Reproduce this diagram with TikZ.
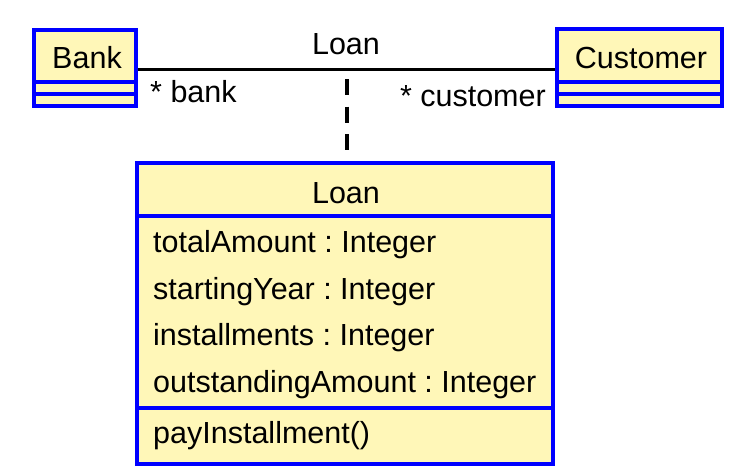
\documentclass[tikz,border=0pt]{standalone}
\usepackage{fontspec}
\setmainfont{Liberation Sans}
\frenchspacing
\definecolor{umlfill}{RGB}{255,247,184}
\definecolor{umlblue}{RGB}{0,0,255}
\begin{document}
\begin{tikzpicture}[x=1pt,y=-1pt,
  classbox/.style={draw=umlblue,fill=umlfill,line width=3.2pt,inner sep=0pt},
  divider/.style={draw=umlblue,line width=3.2pt},
  txt/.style={font=\fontsize{30.5}{36}\selectfont,inner sep=0pt},
  assoc/.style={line width=3pt},
  assocdash/.style={line width=4pt,dash pattern=on 16pt off 11.5pt,dash phase=17.5pt}]
\useasboundingbox (0,0) rectangle (737,475);
% Bank
\node[classbox,minimum width=102pt,minimum height=76pt] (bank) at (85,68) {};
\draw[divider] (bank.west |- 0,82) -- (bank.east |- 0,82);
\draw[divider] (bank.west |- 0,94) -- (bank.east |- 0,94);
\node[txt,anchor=base] (bankname) at (87,68) {Bank};
% Customer
\node[classbox,minimum width=165pt,minimum height=77pt] (cust) at (639.5,67.5) {};
\draw[divider] (cust.west |- 0,82) -- (cust.east |- 0,82);
\draw[divider] (cust.west |- 0,94) -- (cust.east |- 0,94);
\node[txt,anchor=base] (custname) at (641,68.5) {Customer};
% Association
\draw[assoc] (bank.east |- 0,69) -- coordinate[pos=0.5] (mid) (cust.west |- 0,69);
\node[txt,anchor=base] (assocname) at (346,54) {Loan};
\node[txt,anchor=base west] (bankrole) at (150,102) {* bank};
\node[txt,anchor=base east] (custrole) at (546,106) {* customer};
% Loan class
\node[classbox,minimum width=416pt,minimum height=301pt] (loan) at (345,313.5) {};
\draw[divider] (loan.west |- 0,216) -- (loan.east |- 0,216);
\draw[divider] (loan.west |- 0,408) -- (loan.east |- 0,408);
\node[txt,anchor=base] (loanname) at (346,203) {Loan};
\node[txt,anchor=base west] (a1) at (153,252) {totalAmount : Integer};
\node[txt,anchor=base west] (a2) at (153,299) {startingYear : Integer};
\node[txt,anchor=base west] (a3) at (153,345) {installments : Integer};
\node[txt,anchor=base west] (a4) at (153,392) {outstandingAmount : Integer};
\node[txt,anchor=base west] (o1) at (153,443) {payInstallment()};
% Association class link
\draw[assocdash] (mid) -- (mid |- loan.north);
\end{tikzpicture}
\end{document}
